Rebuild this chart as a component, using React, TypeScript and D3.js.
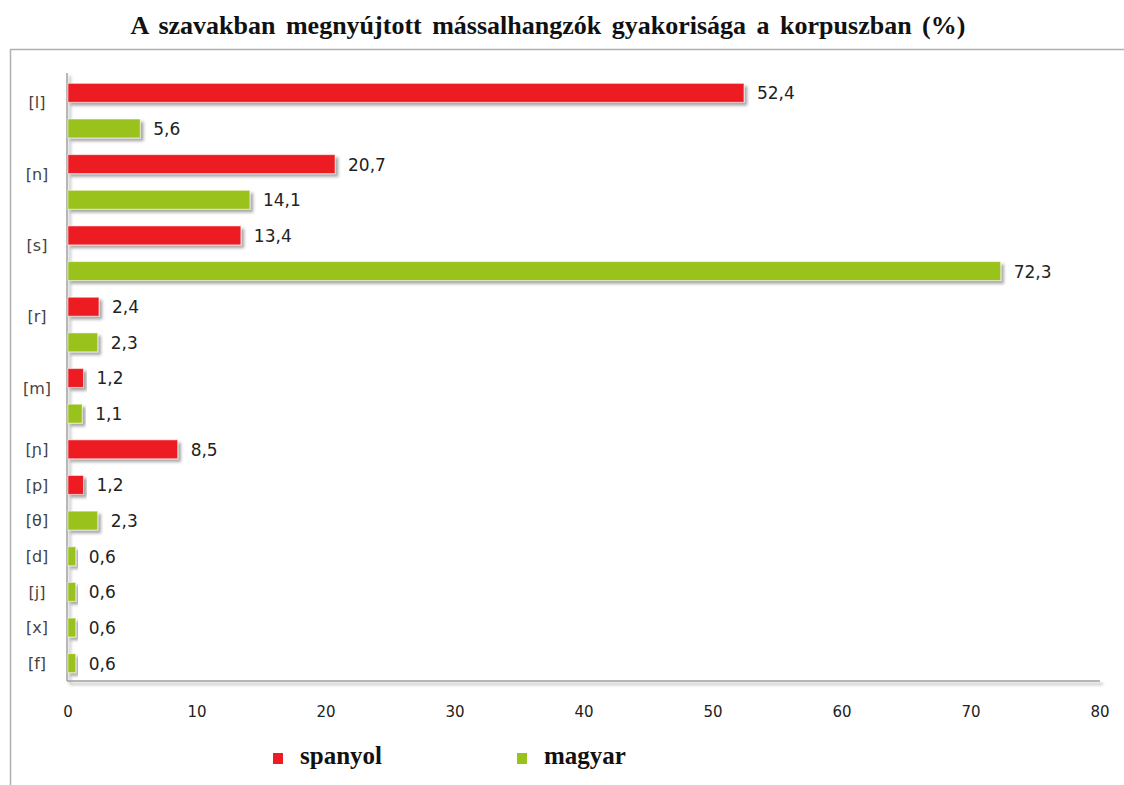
import React from 'react';
import * as d3 from 'd3';

const consonants = ['[l]', '[n]', '[s]', '[r]', '[m]', '[ɲ]', '[p]', '[θ]', '[d]', '[j]', '[x]', '[f]'];
const rowConsonant = ['[l]', '[l]', '[n]', '[n]', '[s]', '[s]', '[r]', '[r]', '[m]', '[m]', '[ɲ]', '[p]', '[θ]', '[d]', '[j]', '[x]', '[f]'];
const rowLanguage = ['spanyol', 'magyar', 'spanyol', 'magyar', 'spanyol', 'magyar', 'spanyol', 'magyar', 'spanyol', 'magyar', 'spanyol', 'spanyol', 'magyar', 'magyar', 'magyar', 'magyar', 'magyar'];
const rowValue = [52.4, 5.6, 20.7, 14.1, 13.4, 72.3, 2.4, 2.3, 1.2, 1.1, 8.5, 1.2, 2.3, 0.6, 0.6, 0.6, 0.6];
const languages = ['spanyol', 'magyar'];
const xTicks = [0, 10, 20, 30, 40, 50, 60, 70, 80];

const W = 1124;
const H = 785;
const left = 68;
const right = 1100;
const top = 75;
const bottom = 681;

const App = () => {
    const rows = rowValue.map((v, i) => ({i, value: v, cons: rowConsonant[i], lang: rowLanguage[i]}));

    const x = d3.scaleLinear().domain([0, 80]).range([left, right]);
    const y = d3.scaleBand<number>()
        .domain(rows.map(d => d.i))
        .range([top, bottom])
        .paddingInner(0.47)
        .paddingOuter(0.235);
    const color = d3.scaleOrdinal<string, string>().domain(languages).range(['#ed1c24', '#99c31b']);
    const fmt = (v: number) => d3.format('.1f')(v).replace('.', ',');

    // category label sits a little above the middle of its group
    const labelY = (c: string) => {
        const idx = rows.filter(r => r.cons === c).map(r => y(r.i)! + y.bandwidth() / 2);
        const m = d3.mean(idx)!;
        return idx.length > 1 ? m - 8 : m;
    };

    const sans = '"DejaVu Sans", Verdana, sans-serif';
    const serif = '"Liberation Serif", "Times New Roman", serif';

    return (
        <svg width={W} height={H} style={{position: 'absolute', left: 0, top: 0}}>
            <defs>
                <filter id="shadow" x="-10%" y="-40%" width="130%" height="200%">
                    <feDropShadow dx="3" dy="3" stdDeviation="1.6" floodColor="#000" floodOpacity="0.35"/>
                </filter>
            </defs>
            <rect x={0} y={0} width={W} height={H} fill="#fff"/>
            <text x={548} y={34} textAnchor="middle" fontFamily={serif} fontWeight="bold" fontSize={26}
                  wordSpacing={4} fill="#111">
                A szavakban megnyújtott mássalhangzók gyakorisága a korpuszban  (%)
            </text>
            {/* outer frame */}
            <path d={`M10.5,${H + 2} V49.5 H${W + 2}`} fill="none" stroke="#b0b0b0" strokeWidth={1.5}/>

            {/* axes */}
            <g filter="url(#shadow)">
                <line x1={left - 1} x2={left - 1} y1={73} y2={bottom} stroke="#a0a0a0" strokeWidth={1.5}/>
                <line x1={left - 1} x2={right} y1={bottom} y2={bottom} stroke="#a0a0a0" strokeWidth={1.5}/>
            </g>

            {rows.map(d => (
                <rect key={d.i} x={x(0)} y={y(d.i)} width={x(d.value) - x(0)} height={y.bandwidth()}
                      fill={color(d.lang)} stroke="#fff" strokeOpacity={0.5} strokeWidth={1}
                      filter="url(#shadow)"/>
            ))}
            {rows.map(d => (
                <text key={'v' + d.i} x={x(d.value) + 13} y={y(d.i)! + y.bandwidth() / 2} dy="0.38em"
                      fontFamily={sans} fontSize={17} fill="#222">{fmt(d.value)}</text>
            ))}

            {consonants.map(c => (
                <text key={c} x={37} y={labelY(c)} dy="0.36em" textAnchor="middle"
                      fontFamily={sans} fontSize={16} fill="#444">{c}</text>
            ))}

            {xTicks.map(t => (
                <text key={t} x={x(t)} y={717} textAnchor="middle" fontFamily={sans} fontSize={15}
                      fill="#222">{t}</text>
            ))}

            {languages.map((l, i) => (
                <g key={l} transform={`translate(${273 + i * 244},0)`}>
                    <rect x={0} y={753} width={10} height={11} fill={color(l)}/>
                    <text x={27} y={764} fontFamily={serif} fontWeight="bold" fontSize={25} fill="#111">{l}</text>
                </g>
            ))}
        </svg>
    );
};

export default App;
